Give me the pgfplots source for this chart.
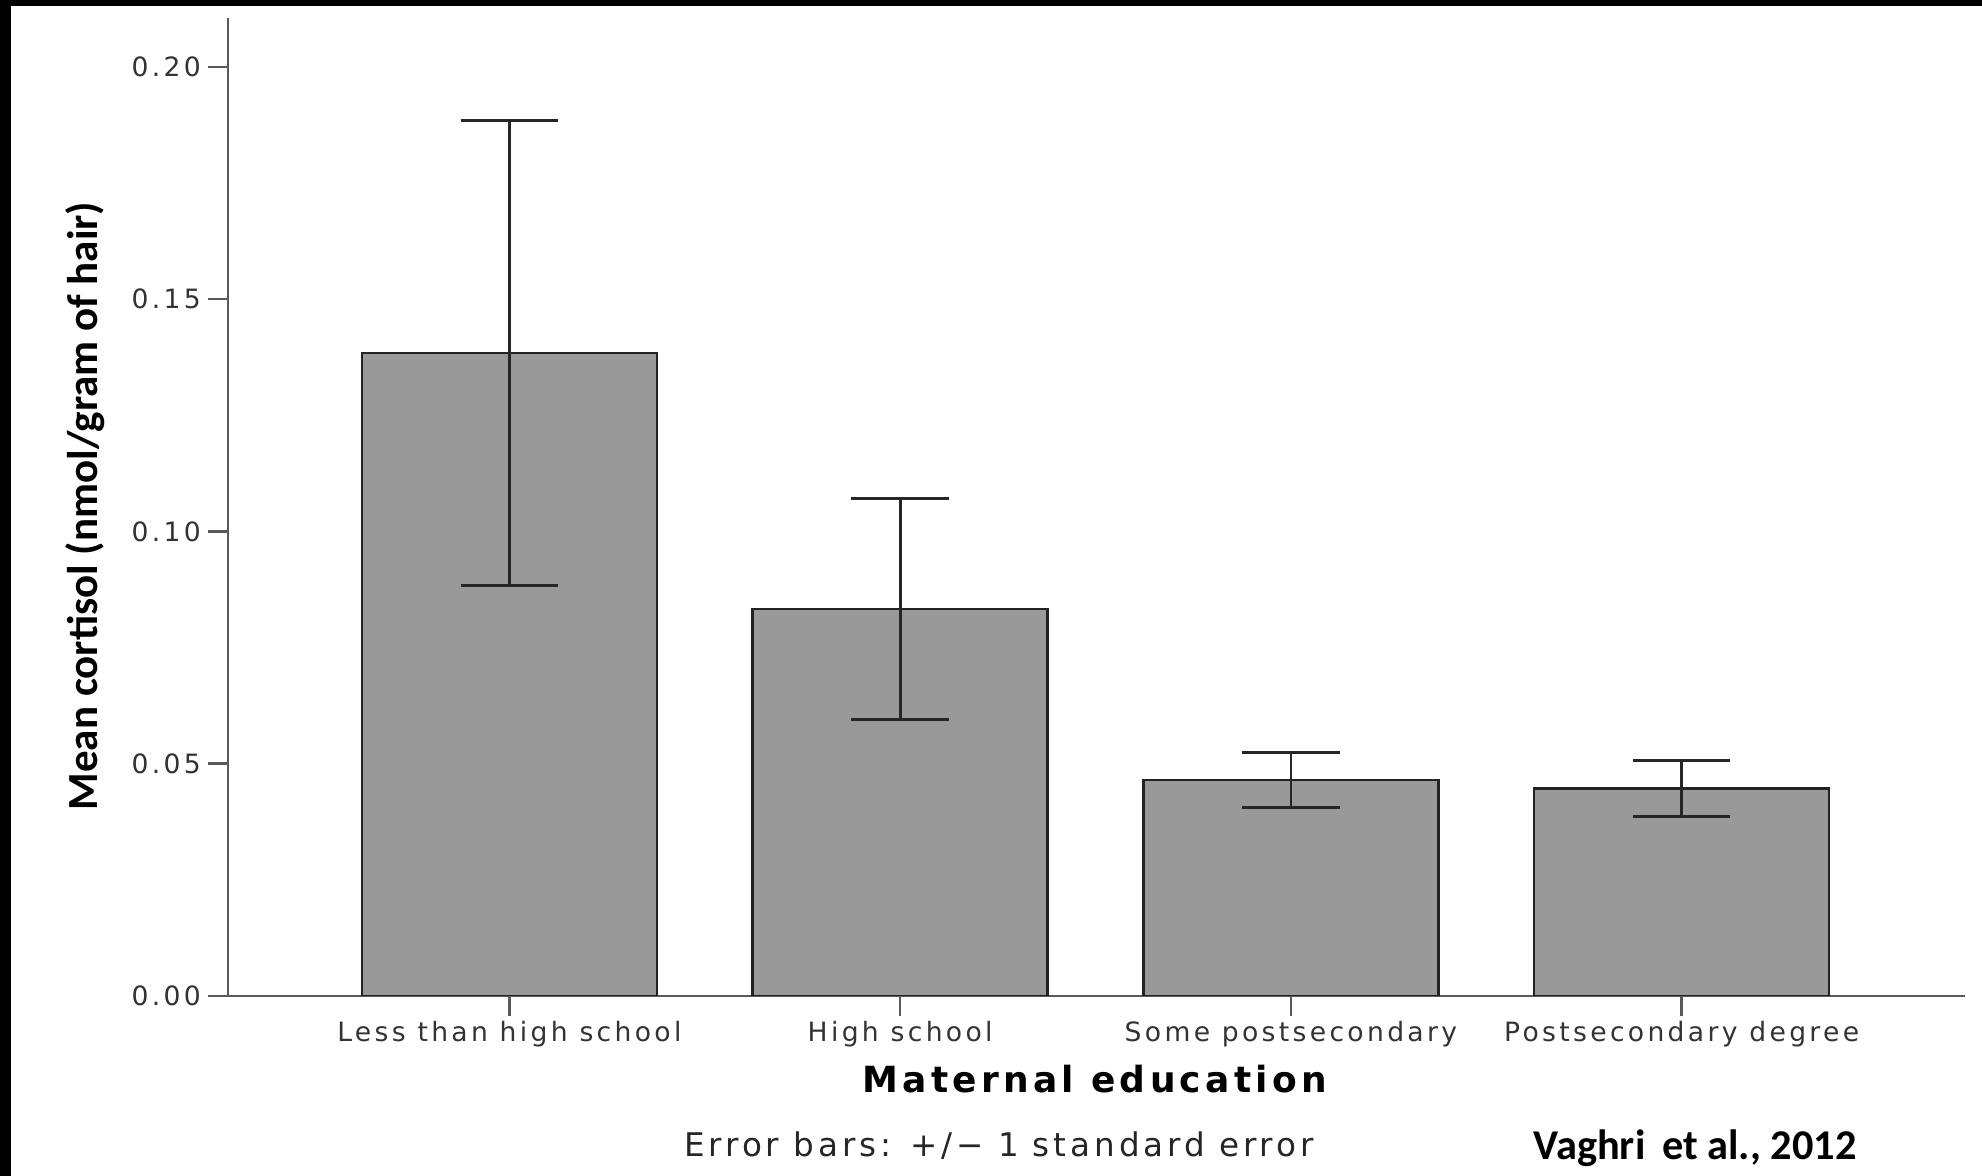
\documentclass[border=0pt]{standalone}
\usepackage{fontspec}
\setmainfont{DejaVu Sans}
\newfontfamily\tickfont[LetterSpace=12.5]{DejaVu Sans}
\newfontfamily\labfont[LetterSpace=12]{DejaVu Sans}
\newfontfamily\notefont[LetterSpace=12]{DejaVu Sans}
\newfontfamily\carlito{Carlito}
\usepackage{pgfplots}
\pgfplotsset{compat=1.18}
\definecolor{barfill}{HTML}{999999}
\definecolor{barline}{HTML}{222222}
\definecolor{axisgray}{HTML}{5A5A5A}
\begin{document}
\begin{tikzpicture}[x=0.5pt,y=0.5pt]
\path[use as bounding box] (0,0) rectangle (1982,1176);
\fill[black] (0,0) rectangle (11,1176);
\fill[black] (0,1170) rectangle (1982,1176);
\begin{axis}[
  at={(114pt,90pt)}, anchor=south west,
  scale only axis, width=868.5pt, height=489pt,
  xmin=-0.720, xmax=3.725, ymin=0, ymax=0.2105,
  axis x line*=bottom, axis y line*=left,
  axis line style={axisgray, line width=1.2pt},
  tick align=outside, major tick length=10pt,
  tick style={axisgray, line width=1.2pt},
  xtick={0,1,2,3},
  xticklabels={Less than high school, High school, Some postsecondary, Postsecondary degree},
  ytick={0,0.05,0.1,0.15,0.2},
  yticklabels={0.00,0.05,0.10,0.15,0.20},
  tick label style={font=\tickfont\fontsize{13.3}{15}\selectfont, text=black!80},
  xticklabel style={yshift=1pt},
  xlabel={Maternal education},
  xlabel style={at={(axis description cs:0.499,-0.0982)}, anchor=base,
    font=\labfont\bfseries\fontsize{18}{20}\selectfont},
  ylabel={Mean cortisol (nmol/gram of hair)},
  ylabel style={at={(axis description cs:-0.0821,0.501)}, anchor=center,
    font=\carlito\bfseries\fontsize{21.5}{24}\selectfont},
  ybar, bar width=147.5pt,
]
\addplot[fill=barfill, draw=barline, line width=1.3pt,
  error bars/.cd, y dir=both, y explicit,
  error bar style={line width=1.4pt, color=black!85},
  error mark options={rotate=90, line width=1.4pt, mark size=24.4pt, color=black!85}]
  coordinates {
    (0,0.1384) +- (0,0.0501)
    (1,0.0833) +- (0,0.0238)
    (2,0.0465) +- (0,0.0059)
    (3,0.0446) +- (0,0.0060)
  };
\end{axis}
\node[font=\notefont\fontsize{16.3}{18}\selectfont, anchor=base, text=black!85] at (999,19) {Error bars: +/− 1 standard error};
\node[font=\carlito\bfseries\fontsize{21.2}{24}\selectfont, anchor=base] at (1695,16) {Vaghri\, et al., 2012};
\end{tikzpicture}
\end{document}
